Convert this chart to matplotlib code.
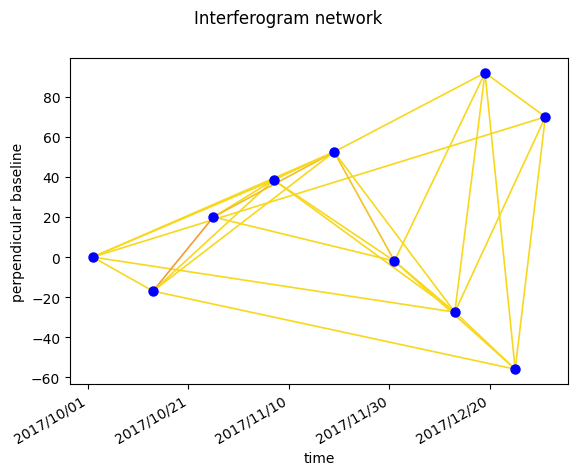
import matplotlib
matplotlib.use("Agg")
import matplotlib.pyplot as plt
import matplotlib.dates as mdates
import pandas as pd

# Acquisition dates and perpendicular baselines
dates = ["2017-10-02", "2017-10-14", "2017-10-26", "2017-11-07", "2017-11-19",
         "2017-12-01", "2017-12-13", "2017-12-19", "2017-12-25", "2017-12-31"]
bperp = [0, -17, 20, 38.5, 52.5, -2, -27.5, 92, -56, 70]

# Interferogram pairs (indices into dates)
pairs = [(0, 1), (0, 3), (0, 6), (0, 9), (0, 4),
         (1, 2), (1, 3), (1, 4), (1, 8),
         (2, 3), (2, 4), (2, 5),
         (3, 4), (3, 5), (3, 6),
         (4, 5), (4, 6), (4, 7),
         (5, 6), (5, 7), (5, 8),
         (6, 7), (6, 8), (6, 9),
         (7, 8), (7, 9),
         (8, 9)]
pair_colors = {(1, 2): "#f39c35", (2, 4): "#f2be22", (4, 5): "#f2c322"}
default_color = "#f7d81c"

tick_dates = ["2017-10-01", "2017-10-21", "2017-11-10", "2017-11-30", "2017-12-20"]

d = pd.to_datetime(dates)
fig = plt.figure(figsize=(5.76, 4.77), dpi=100)
ax = fig.add_axes([70 / 576, (477 - 385) / 477, 498 / 576, 326 / 477])

for (i, j) in pairs:
    c = pair_colors.get((i, j), default_color)
    ax.plot([d[i], d[j]], [bperp[i], bperp[j]], color=c, lw=1.2, zorder=1)

ax.plot(d, bperp, "o", color="blue", ms=6.5, zorder=3, linestyle="none")

ax.set_xticks(pd.to_datetime(tick_dates))
ax.xaxis.set_major_formatter(mdates.DateFormatter("%Y/%m/%d"))
for lab in ax.get_xticklabels():
    lab.set_rotation(30)
    lab.set_ha("right")
ax.set_xlabel("time")
ax.set_ylabel("perpendicular baseline")
fig.suptitle("Interferogram network", y=0.98)

fig.savefig("out.png", dpi=100)
